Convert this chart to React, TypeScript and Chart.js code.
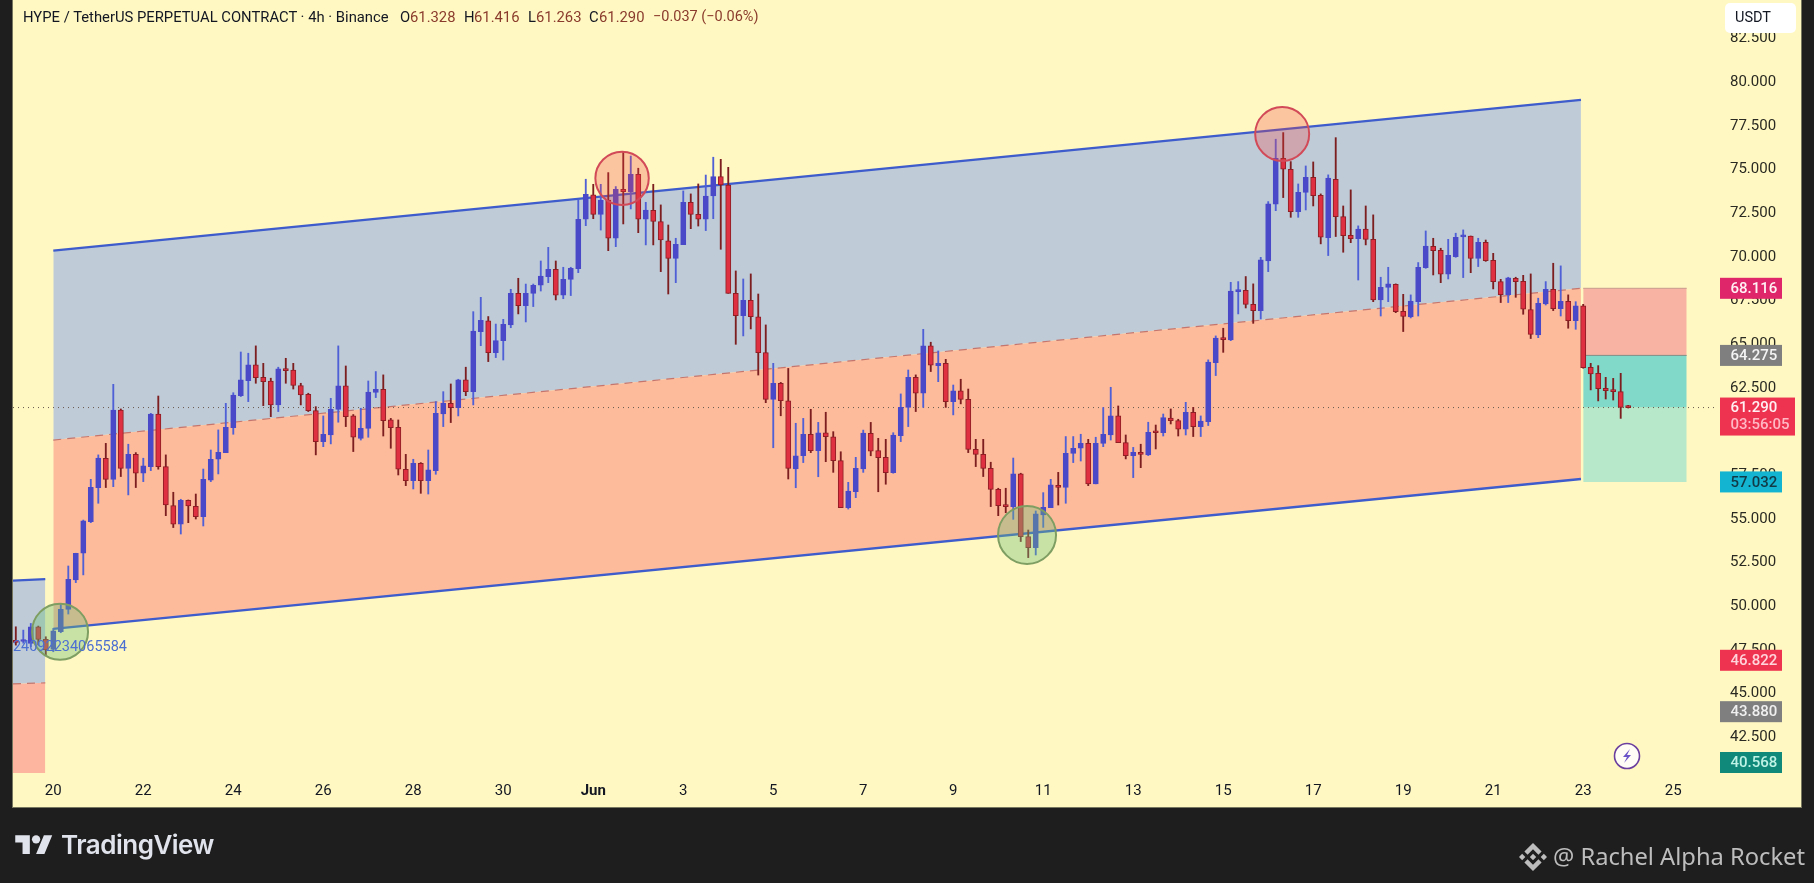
import React, { useEffect, useRef } from "react";
import { Chart, registerables } from "chart.js";

Chart.register(...registerables);

// 4h candles; first bar sits five slots before 20 May 00:00
const firstBarSlot = -5;
const slotsPerDay = 6;
const opens = [47.95,47.9,47.79,48.74,48.02,
47.45,48.46,49.74,51.42,52.95,54.76,56.71,58.39,57.18,61.15,
57.81,58.61,57.53,57.91,60.92,57.91,55.68,54.61,55.98,55.64,
55.05,57.14,58.33,58.71,60.14,61.97,62.83,63.73,63.02,62.81,
61.44,63.48,63.44,62.55,62.05,61.11,59.34,59.72,61.19,62.53,
60.81,59.53,60.1,62.15,62.34,60.58,60.16,57.76,57.11,58.1,
57.11,57.68,60.92,61.53,61.29,62.87,62.2,65.63,66.25,64.43,
65.12,66.02,67.83,67.12,67.83,68.29,68.78,69.2,67.73,68.63,
69.24,72.07,73.46,72.35,73.17,70.98,73.78,73.65,74.64,72.07,
72.58,71.93,70.84,69.83,70.62,73.04,72.35,72.07,73.4,74.51,
74.03,67.83,66.55,67.43,66.49,64.43,61.76,62.68,61.68,57.77,
58.53,59.76,58.82,59.85,59.62,58.25,55.56,56.47,57.77,59.81,
58.82,58.44,57.56,59.68,61.3,63.02,62.11,64.82,63.69,63.82,
61.63,62.24,61.76,58.9,58.61,57.81,56.61,55.69,55.62,57.49,
53.9,53.27,55.14,55.56,56.84,56.72,58.67,58.96,59.24,56.92,
59.24,59.72,60.81,59.28,58.54,58.73,58.58,59.89,59.85,60.69,
60.54,60.05,61.02,60.2,60.48,63.86,65.26,65.16,67.93,68.0,
67.2,66.84,69.68,72.93,75.56,74.93,72.51,73.61,74.47,73.44,
71.02,74.36,72.22,71.15,70.96,71.5,70.92,67.45,68.16,68.35,
66.8,66.48,67.35,69.3,70.52,70.29,68.92,69.93,71.06,71.1,
69.82,70.75,69.72,68.5,67.75,68.69,68.52,66.9,65.45,67.22,
68.06,66.95,67.37,66.27,67.11,63.59,63.25,62.39,62.3,62.2,
61.328];
const highs = [48.74,48.55,48.93,48.78,48.17,
48.65,50.08,52.22,52.95,54.85,57.18,58.58,59.24,62.62,61.21,
59.19,58.71,58.39,60.96,61.95,58.58,56.44,56.04,56.0,56.34,
57.77,58.86,60.01,61.53,62.14,64.47,64.4,64.82,63.82,62.97,
63.6,64.11,63.82,62.68,62.11,61.34,60.81,61.82,64.82,63.67,
60.89,61.25,62.81,63.35,63.16,60.67,60.58,58.61,58.33,58.14,
58.86,61.63,62.2,62.64,62.91,63.6,66.78,67.6,66.5,66.07,
66.34,68.06,68.69,68.36,68.36,69.68,70.46,69.68,69.32,69.32,
73.17,74.36,74.07,74.07,74.74,73.94,75.94,75.69,74.99,73.04,
74.07,72.89,71.74,70.98,73.69,73.52,74.09,74.6,75.62,75.5,
75.04,69.11,68.65,68.94,67.79,66.02,63.82,62.73,63.53,60.39,
60.67,61.19,60.44,61.02,59.91,58.76,57.01,58.44,60.0,60.44,
59.53,59.47,59.85,62.07,63.44,63.16,65.77,65.03,64.53,64.05,
62.58,62.91,62.35,59.47,59.47,58.16,56.67,56.67,58.4,57.53,
54.28,55.37,56.42,57.18,57.58,59.63,59.63,59.76,59.47,59.59,
61.29,62.45,61.38,59.72,59.01,59.19,60.45,60.29,60.92,61.21,
60.62,61.59,61.3,60.81,64.02,65.39,65.83,68.46,68.5,68.79,
68.37,69.89,73.08,76.65,77.03,75.37,74.09,75.12,75.35,73.52,
74.61,76.74,72.83,73.75,71.69,72.83,72.32,68.75,69.32,68.37,
67.77,67.74,69.59,71.4,70.98,70.41,70.92,71.27,71.46,71.11,
70.98,70.88,70.12,68.63,68.75,68.75,68.86,68.94,67.55,68.5,
69.55,69.4,67.74,67.35,67.2,63.82,63.69,63.02,62.96,63.25,
61.416];
const lows = [47.69,47.8,47.6,47.7,47.12,
47.31,48.4,49.47,51.27,51.71,54.7,55.81,56.71,56.76,57.34,
56.29,56.71,57.05,57.68,57.76,55.1,54.42,54.05,54.7,54.91,
54.51,57.05,57.49,58.71,59.76,61.92,61.63,62.68,61.4,60.77,
61.06,62.68,62.35,61.44,61.06,58.58,59.05,59.21,60.45,60.2,
58.77,59.43,59.59,61.86,59.66,58.96,57.43,56.82,56.63,56.38,
56.34,57.47,60.2,60.43,60.81,61.97,61.44,64.83,63.92,64.15,
64.01,65.86,66.65,66.19,67.07,67.96,68.44,67.45,67.52,67.7,
69.01,71.7,72.1,71.45,70.27,70.5,71.8,72.66,71.3,70.6,
70.6,69.07,67.79,68.44,70.62,71.53,71.68,71.42,72.1,70.35,
67.83,64.91,65.39,65.79,63.15,61.57,58.99,60.82,57.2,56.7,
58.14,58.71,57.33,58.19,57.58,55.56,55.48,56.13,57.58,58.53,
56.47,56.9,57.53,59.34,60.2,61.06,61.3,63.35,62.77,61.3,
60.87,61.5,58.71,57.91,57.34,55.62,55.1,55.27,54.89,53.62,
52.7,52.85,54.43,55.56,55.71,55.81,58.14,58.23,56.82,56.92,
59.05,59.43,59.28,58.35,57.28,57.85,58.54,58.92,59.66,60.35,
59.66,59.72,59.63,59.63,60.26,63.12,64.45,65.12,66.65,66.99,
66.11,66.36,69.07,72.56,73.31,72.18,72.18,72.6,72.83,70.66,
69.99,71.08,70.18,70.73,68.59,70.6,67.35,66.53,67.35,66.72,
65.64,66.42,66.53,69.26,68.88,68.44,68.65,69.89,68.73,69.01,
69.36,69.66,68.08,67.3,67.3,67.6,66.63,65.24,65.29,67.16,
66.84,66.53,65.83,65.77,63.54,62.3,61.67,61.78,61.72,60.67,
61.263];
const closes = [47.85,48.0,48.74,48.02,47.41,
48.51,49.74,51.46,52.95,54.8,56.73,58.4,57.18,61.15,57.81,
58.61,57.53,57.95,60.92,57.91,55.71,54.61,55.98,55.66,55.05,
57.18,58.33,58.73,60.16,62.01,62.87,63.73,63.0,62.77,61.44,
63.5,63.4,62.55,62.01,61.11,59.34,59.76,61.19,62.53,60.77,
59.59,60.1,62.18,62.34,60.54,60.14,57.76,57.11,58.1,57.11,
57.72,60.96,61.53,61.29,62.87,62.2,65.67,66.28,64.43,65.12,
66.05,67.83,67.12,67.83,68.29,68.82,69.2,67.73,68.63,69.26,
72.07,73.5,72.35,73.17,70.98,73.78,73.65,74.64,72.07,72.6,
71.95,70.88,69.83,70.63,73.04,72.35,72.07,73.4,74.51,74.03,
67.83,66.55,67.43,66.49,64.43,61.76,62.68,61.68,57.81,58.53,
59.76,58.82,59.85,59.62,58.25,55.56,56.51,57.81,59.83,58.8,
58.42,57.56,59.72,61.3,63.02,62.11,64.82,63.71,63.82,61.63,
62.24,61.76,58.9,58.61,57.81,56.61,55.68,55.62,57.49,53.9,
53.27,55.2,55.58,56.86,56.72,58.67,58.96,59.24,56.92,59.24,
59.76,60.81,59.28,58.54,58.73,58.61,59.87,59.85,60.71,60.54,
60.05,61.02,60.2,60.52,63.9,65.27,65.18,67.96,68.0,67.2,
66.84,69.74,72.95,75.56,74.93,72.51,73.61,74.47,73.42,71.04,
74.43,72.22,71.13,70.96,71.5,70.92,67.45,68.17,68.37,66.78,
66.5,67.39,69.32,70.54,70.27,68.92,70.0,71.04,71.1,69.82,
70.75,69.7,68.5,67.75,68.71,68.5,66.92,65.48,67.26,68.06,
66.95,67.37,66.27,67.11,63.58,63.21,62.37,62.26,62.2,61.3,
61.29];

// axes
const dayTicks = [0,2,4,6,8,10,12,14,16,18,20,22,24,26,28,30,32,34,36];
const dayLabels = ["20","22","24","26","28","30","Jun","3","5","7","9","11","13","15","17","19","21","23","25"];
const priceTicks = [42.5,45,47.5,50,52.5,55,57.5,60,62.5,65,67.5,70,72.5,75,77.5,80,82.5];
const xMin = -0.8956;
const xMax = 37.04;
const yMin = 40.37;
const yMax = 84.62;

// channel drawing (day, price)
const channelDays = [0, 33.95];
const channelUpper = [70.27, 78.9];
const channelMiddle = [59.43, 68.116];
const channelLower = [48.62, 57.2];
const oldChannelDays = [-0.8956, -0.178];
const oldChannelUpper = [51.38, 51.47];
const oldChannelMiddle = [45.47, 45.53];
const oldChannelLower = [40.37, 40.37];

// position box
const boxDays = [34, 36.3];
const boxStop = 68.116;
const boxEntry = 64.275;
const boxLast = 61.29;
const boxTarget = 57.032;
const lastLineDays = [-0.8956, 36.98];

// circled touches
const redCircleDays = [12.64, 27.31];
const redCirclePrices = [74.41, 76.95];
const redCircleRadii = [26.7, 27];
const greenCircleDays = [0.15, 21.64];
const greenCirclePrices = [48.46, 54.0];
const greenCircleRadii = [28, 29];

// price tags on the axis
const tagPrices = [68.116, 64.275, 57.032, 46.822, 43.88, 40.568];
const tagFills = ["#E0266A", "#7F7F7F", "#12B4D2", "#EE3350", "#7F7F7F", "#10897B"];
const tagInks = ["#FFF1F4", "#F4F4F4", "#123A46", "#FFD5DC", "#F0F0F0", "#BFF3E6"];
const lastPrice = 61.29;
const countdown = "03:56:05";
const drawingId = "71124092234065584";

const FONT = "Roboto, 'Noto Sans', sans-serif";
const INK = "#131722";
const NUM = "#8A3B2C";

const pts = (xs: number[], ys: number[]) => xs.map((x, i) => ({ x, y: ys[i] }));
const flat = (xs: number[], y: number) => xs.map((x) => ({ x, y }));

export default function App() {
  const ref = useRef<HTMLCanvasElement | null>(null);

  useEffect(() => {
    const day = (i: number) => (i + firstBarSlot) / slotsPerDay;
    const up = closes.map((c, i) => c >= opens[i]);
    const lineBase = { type: "line", pointRadius: 0, tension: 0, fill: false };

    const overlay = {
      id: "overlay",
      afterDraw(chart: any) {
        const { ctx, scales } = chart;
        const y = scales.y;
        const x0 = 1720;
        const bottom = chart.chartArea.bottom;
        ctx.save();
        ctx.textBaseline = "middle";
        ctx.textAlign = "left";
        // drawing id text
        ctx.save();
        ctx.beginPath();
        ctx.rect(13, 600, 200, 100);
        ctx.clip();
        ctx.textAlign = "right";
        ctx.fillStyle = "#4C6FD2";
        ctx.font = `14.5px ${FONT}`;
        ctx.fillText(drawingId, 127, 647);
        ctx.restore();
        // tags
        tagPrices.forEach((p, i) => {
          const cy = Math.min(y.getPixelForValue(p), bottom - 10.5);
          ctx.fillStyle = tagFills[i];
          ctx.fillRect(x0, cy - 10.5, 62, 21);
          ctx.fillStyle = tagInks[i];
          ctx.font = `500 15px ${FONT}`;
          ctx.fillText(p.toFixed(3), x0 + 10.5, cy + 1);
        });
        // last price tag
        const ly = y.getPixelForValue(lastPrice);
        ctx.fillStyle = "#EE3350";
        ctx.fillRect(x0, ly - 10, 75, 38);
        ctx.fillStyle = "#FFF1F3";
        ctx.font = `500 15px ${FONT}`;
        ctx.fillText(lastPrice.toFixed(3), x0 + 10.5, ly + 1);
        ctx.fillStyle = "#FFB8C4";
        ctx.fillText(countdown, x0 + 10.5, ly + 18);
        // currency box
        ctx.fillStyle = "#FFFFFF";
        ctx.beginPath();
        ctx.roundRect(1725, 3, 71, 30, 5);
        ctx.fill();
        ctx.fillStyle = INK;
        ctx.font = `14.5px ${FONT}`;
        ctx.fillText("USDT", 1735, 18);
        ctx.restore();
      },
    };

    const chart = new Chart(ref.current as HTMLCanvasElement, {
      type: "bar",
      plugins: [overlay],
      data: {
        datasets: [
          // circles on top
          {
            type: "scatter", order: 0, data: pts(redCircleDays, redCirclePrices),
            pointRadius: redCircleRadii, pointHoverRadius: redCircleRadii,
            backgroundColor: "rgba(240,70,70,0.28)", borderColor: "#D24A58", borderWidth: 2,
          },
          {
            type: "scatter", order: 0, data: pts(greenCircleDays, greenCirclePrices),
            pointRadius: greenCircleRadii, pointHoverRadius: greenCircleRadii,
            backgroundColor: "rgba(110,190,120,0.38)", borderColor: "#7E9E62", borderWidth: 2,
          },
          // candle bodies
          {
            type: "bar", order: 1, grouped: false, barThickness: 5.2, minBarLength: 2,
            data: opens.map((o, i) => ({ x: day(i), y: [o, closes[i]] })),
            backgroundColor: up.map((u) => (u ? "#4A49C8" : "#DE3040")),
            borderColor: up.map((u) => (u ? "#4A49C8" : "#8E1D24")),
            borderWidth: 1, borderSkipped: false,
          },
          // candle wicks
          {
            type: "bar", order: 2, grouped: false, barThickness: 1.2,
            data: lows.map((l, i) => ({ x: day(i), y: [l, highs[i]] })),
            backgroundColor: up.map((u) => (u ? "#4F5FD6" : "#7C1E20")),
            borderWidth: 0,
          },
          // last price line
          {
            ...lineBase, order: 3, data: flat(lastLineDays, lastPrice),
            borderColor: "#6A5A50", borderWidth: 1, borderDash: [1, 4],
          },
          // main channel
          {
            ...lineBase, order: 5, data: pts(channelDays, channelUpper),
            borderColor: "#3E5CCB", borderWidth: 2.4, fill: "+1", backgroundColor: "#BFCCD8",
          },
          {
            ...lineBase, order: 4, data: pts(channelDays, channelMiddle),
            borderColor: "#C4766E", borderWidth: 1.2, borderDash: [8, 6], fill: "+1", backgroundColor: "#FDBB9C",
          },
          {
            ...lineBase, order: 3.5, data: pts(channelDays, channelLower),
            borderColor: "#3E5CCB", borderWidth: 2.4,
          },
          // previous channel piece
          {
            ...lineBase, order: 5, data: pts(oldChannelDays, oldChannelUpper),
            borderColor: "#3E5CCB", borderWidth: 2.4, fill: "+1", backgroundColor: "#BFCCD8",
          },
          {
            ...lineBase, order: 4, data: pts(oldChannelDays, oldChannelMiddle),
            borderColor: "#C4766E", borderWidth: 1.2, borderDash: [8, 6], fill: "+1", backgroundColor: "#FDB5A0",
          },
          {
            ...lineBase, order: 3.5, data: pts(oldChannelDays, oldChannelLower),
            borderWidth: 0,
          },
          // position box
          {
            ...lineBase, order: 5, data: flat(boxDays, boxStop),
            borderColor: "#C99A8C", borderWidth: 1, fill: "+1", backgroundColor: "#F8B3A2",
          },
          {
            ...lineBase, order: 4, data: flat(boxDays, boxEntry),
            borderColor: "#7F8F88", borderWidth: 1, fill: "+1", backgroundColor: "#80D9C9",
          },
          {
            ...lineBase, order: 4, data: flat(boxDays, boxLast),
            borderWidth: 0, fill: "+1", backgroundColor: "#B7E8C9",
          },
          {
            ...lineBase, order: 4, data: flat(boxDays, boxTarget),
            borderWidth: 0,
          },
        ] as any,
      },
      options: {
        responsive: false,
        animation: false,
        devicePixelRatio: 1,
        layout: { autoPadding: false, padding: { left: 13, right: 13, top: 0, bottom: 76 } },
        plugins: { legend: { display: false }, tooltip: { enabled: false } },
        events: [],
        scales: {
          x: {
            type: "linear",
            min: xMin,
            max: xMax,
            offset: false,
            grid: { display: false, drawTicks: false },
            border: { display: false },
            afterBuildTicks: (s: any) => { s.ticks = dayTicks.map((value) => ({ value })); },
            afterFit: (s: any) => { s.height = 34; s.paddingLeft = 0; s.paddingRight = 0; s.paddingTop = 0; s.paddingBottom = 0; },
            ticks: {
              autoSkip: false,
              maxRotation: 0,
              padding: 9,
              color: INK,
              font: (c: any) => ({ family: FONT, size: 15, weight: c.tick && c.tick.value === 12 ? "bold" : "normal" }),
              callback: (v: any) => dayLabels[dayTicks.indexOf(v)] ?? "",
            },
          },
          y: {
            type: "linear",
            position: "right",
            min: yMin,
            max: yMax,
            grid: { display: false, drawTicks: false },
            border: { display: false },
            afterBuildTicks: (s: any) => { s.ticks = priceTicks.map((value) => ({ value })); },
            afterFit: (s: any) => { s.width = 81; s.paddingLeft = 0; s.paddingRight = 0; s.paddingTop = 0; s.paddingBottom = 0; },
            ticks: {
              autoSkip: false,
              padding: 10,
              color: "#2A2A22",
              // a blank first line with a small line height nudges the digits down onto the tick
              font: { family: FONT, size: 15, lineHeight: 0.2 },
              callback: (v: any) => ["", Number(v).toFixed(3)],
            },
          },
        },
      } as any,
    });
    return () => chart.destroy();
  }, []);

  const seg = (left: number, text: string, color: string, size = 14.8) => (
    <span style={{ position: "absolute", left, top: 8, color, whiteSpace: "pre", fontSize: size }}>{text}</span>
  );

  return (
    <div style={{ position: "fixed", left: 0, top: 0, width: 1814, height: 883, background: "#1E1E1E", overflow: "hidden" }}>
      <div style={{ position: "absolute", left: 13, top: 0, width: 1788, height: 807, background: "#FFF8C2", boxShadow: "0 0 0 1px #77775F" }} />
      <canvas ref={ref} width={1814} height={883} style={{ position: "absolute", left: 0, top: 0, width: 1814, height: 883 }} />
      <div style={{ position: "absolute", left: 0, top: 0, font: `14.8px ${FONT}` }}>
        {seg(23, "HYPE / TetherUS PERPETUAL CONTRACT · 4h · Binance", INK)}
        {seg(400, "O", INK)}{seg(410, "61.328", NUM)}
        {seg(464, "H", INK)}{seg(474, "61.416", NUM)}
        {seg(528, "L", INK)}{seg(536, "61.263", NUM)}
        {seg(589, "C", INK)}{seg(599, "61.290", NUM)}
        {seg(653, "−0.037 (−0.06%)", NUM, 14.5)}
      </div>
      <svg style={{ position: "absolute", left: 1613, top: 742 }} width="28" height="28" viewBox="0 0 28 28">
        <circle cx="14" cy="14" r="12.5" fill="#FFFDF5" stroke="#6B3F9E" strokeWidth="1.6" />
        <path d="M17 7 L10 15 L14 15 L11 21 L18 13 L14 13 Z" fill="#6A52C8" />
      </svg>
      <svg style={{ position: "absolute", left: 15, top: 831 }} width="38" height="25" viewBox="0 0 36 24" fill="#E0E3EB">
        <path d="M14 22H7V11H0V4h14v18zM28 22h-8l7.5-18h8L28 22z" />
        <circle cx="20" cy="8" r="4" />
      </svg>
      <div style={{ position: "absolute", left: 61, top: 829, font: `600 26px Inter, ${FONT}`, color: "#E0E3EB", letterSpacing: "-0.5px" }}>TradingView</div>
      <svg style={{ position: "absolute", left: 1519, top: 843 }} width="28" height="28" viewBox="0 0 126.61 126.61" fill="#BDBDBD">
        <path d="M38.73 53.2l24.59-24.58 24.6 24.6 14.3-14.31L63.32 0 24.43 38.9zM0 63.31l14.3-14.31 14.31 14.31-14.31 14.3zM38.73 73.41l24.59 24.59 24.6-24.6 14.31 14.29-38.9 38.91-38.91-38.88zM98 63.31l14.3-14.31 14.31 14.3-14.31 14.32zM77.83 63.3L63.32 48.78 52.59 59.51l-1.24 1.23-2.54 2.54 14.51 14.5 14.51-14.52z" />
      </svg>
      <div style={{ position: "absolute", left: 1553, top: 840, font: `23.7px 'Noto Sans', sans-serif`, color: "#BDBDBD", whiteSpace: "pre" }}>@ Rachel Alpha Rocket</div>
    </div>
  );
}
